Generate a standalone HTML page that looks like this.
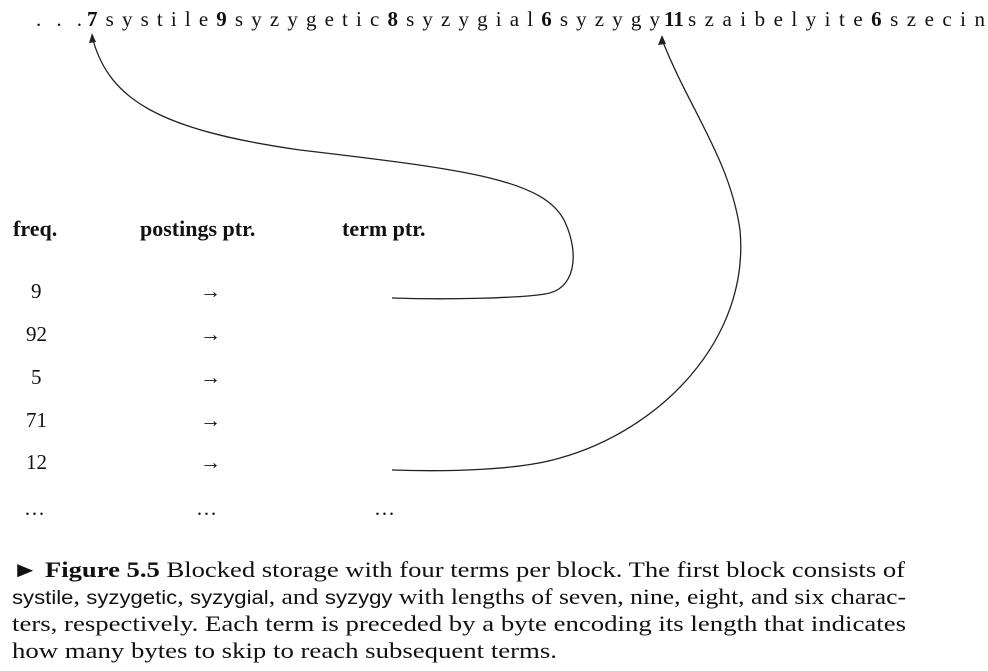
<!DOCTYPE html>
<html><head><style>
body{margin:0;width:988px;height:671px;background:#fff;position:relative;font-family:"Liberation Serif",serif;color:#111;overflow:hidden}
.a{position:absolute;white-space:nowrap}
.h{font-weight:bold;font-size:22px}
.n{font-size:21px}
</style></head><body>
<svg class="a" style="left:0;top:0" width="988" height="671" font-family="Liberation Serif, serif" fill="#111">
<text x="36" y="26" font-size="21" textLength="46" lengthAdjust="spacing">. . .</text>
<text x="87" y="26" font-size="21" textLength="573" lengthAdjust="spacing"><tspan font-weight="bold">7</tspan>systile<tspan font-weight="bold">9</tspan>syzygetic<tspan font-weight="bold">8</tspan>syzygial<tspan font-weight="bold">6</tspan>syzygy</text>
<text x="664" y="26" font-size="21" font-weight="bold" textLength="20" lengthAdjust="spacingAndGlyphs">11</text>
<text x="688" y="26" font-size="21" textLength="297" lengthAdjust="spacing">szaibelyite<tspan font-weight="bold">6</tspan>szecin</text>
<path d="M392 298 C450 300 520 298 545 294 C575 290 580 255 565 222 C545 180 470 170 300 150 C160 130 110 100 93 40" fill="none" stroke="#222" stroke-width="1.3"/>
<path d="M89 43 L92 33 L96 42 Z" fill="#222"/>
<path d="M392 470 C450 472 520 470 560 458 C660 430 750 340 740 230 C730 160 690 110 663 42" fill="none" stroke="#222" stroke-width="1.3"/>
<path d="M658 45 L662 35 L666 44 Z" fill="#222"/>
<g font-size="22">
<text x="12" y="577" textLength="893" lengthAdjust="spacingAndGlyphs">► <tspan font-weight="bold">Figure 5.5</tspan>   Blocked storage with four terms per block. The first block consists of</text>
<text x="12" y="604" textLength="894" lengthAdjust="spacingAndGlyphs"><tspan font-family="Liberation Sans, sans-serif" font-size="19">systile</tspan>, <tspan font-family="Liberation Sans, sans-serif" font-size="19">syzygetic</tspan>, <tspan font-family="Liberation Sans, sans-serif" font-size="19">syzygial</tspan>, and <tspan font-family="Liberation Sans, sans-serif" font-size="19">syzygy</tspan> with lengths of seven, nine, eight, and six charac-</text>
<text x="12" y="631" textLength="894" lengthAdjust="spacingAndGlyphs">ters, respectively. Each term is preceded by a byte encoding its length that indicates</text>
<text x="12" y="658" textLength="545" lengthAdjust="spacingAndGlyphs">how many bytes to skip to reach subsequent terms.</text>
</g>
</svg>
<div class="a h" style="left:13px;top:216px">freq.</div>
<div class="a h" style="left:140px;top:216px">postings ptr.</div>
<div class="a h" style="left:342px;top:216px">term ptr.</div>
<div class="a n" style="left:31px;top:279px">9</div>
<div class="a n" style="left:26px;top:322px">92</div>
<div class="a n" style="left:31px;top:365px">5</div>
<div class="a n" style="left:26px;top:408px">71</div>
<div class="a n" style="left:26px;top:450px">12</div>
<div class="a n" style="left:200px;top:279px">→</div>
<div class="a n" style="left:200px;top:322px">→</div>
<div class="a n" style="left:200px;top:365px">→</div>
<div class="a n" style="left:200px;top:408px">→</div>
<div class="a n" style="left:200px;top:450px">→</div>
<div class="a n" style="left:24px;top:496px">…</div>
<div class="a n" style="left:196px;top:496px">…</div>
<div class="a n" style="left:374px;top:496px">…</div>
</body></html>
